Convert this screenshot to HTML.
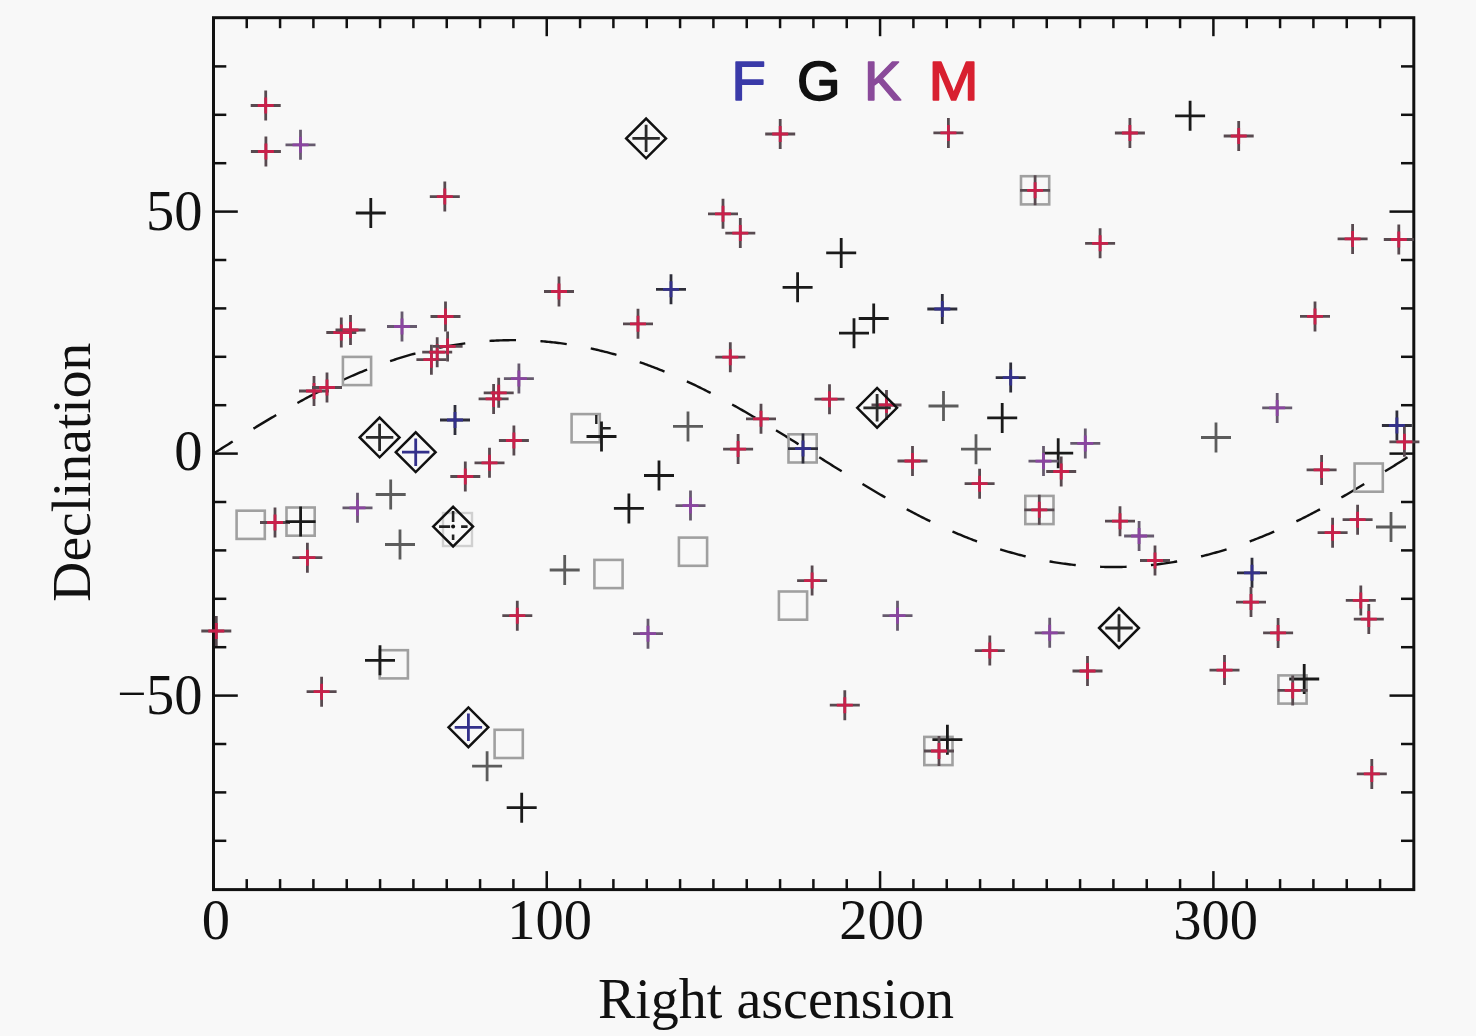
<!DOCTYPE html>
<html><head><meta charset="utf-8"><style>
html,body{margin:0;padding:0;background:#f8f8f8;}
body{width:1476px;height:1036px;overflow:hidden;position:relative;}
svg{position:absolute;left:0;top:0;}
.t{font-family:"Liberation Serif",serif;font-size:56.5px;fill:#111;}
.ax{font-family:"Liberation Serif",serif;font-size:55.5px;fill:#111;}
.lg{font-family:"Liberation Sans",sans-serif;font-weight:normal;font-size:56px;stroke-width:1.6px;stroke-linejoin:round;}
</style></head><body>
<svg width="1476" height="1036" viewBox="0 0 1476 1036">
<rect x="213.5" y="17.7" width="1200.3" height="871.9" fill="none" stroke="#111" stroke-width="3"/>
<line x1="246.73" y1="889.6" x2="246.73" y2="879.1" stroke="#111" stroke-width="2.5"/>
<line x1="246.73" y1="17.7" x2="246.73" y2="28.2" stroke="#111" stroke-width="2.5"/>
<line x1="280.07" y1="889.6" x2="280.07" y2="879.1" stroke="#111" stroke-width="2.5"/>
<line x1="280.07" y1="17.7" x2="280.07" y2="28.2" stroke="#111" stroke-width="2.5"/>
<line x1="313.40" y1="889.6" x2="313.40" y2="879.1" stroke="#111" stroke-width="2.5"/>
<line x1="313.40" y1="17.7" x2="313.40" y2="28.2" stroke="#111" stroke-width="2.5"/>
<line x1="346.73" y1="889.6" x2="346.73" y2="879.1" stroke="#111" stroke-width="2.5"/>
<line x1="346.73" y1="17.7" x2="346.73" y2="28.2" stroke="#111" stroke-width="2.5"/>
<line x1="380.07" y1="889.6" x2="380.07" y2="879.1" stroke="#111" stroke-width="2.5"/>
<line x1="380.07" y1="17.7" x2="380.07" y2="28.2" stroke="#111" stroke-width="2.5"/>
<line x1="413.40" y1="889.6" x2="413.40" y2="879.1" stroke="#111" stroke-width="2.5"/>
<line x1="413.40" y1="17.7" x2="413.40" y2="28.2" stroke="#111" stroke-width="2.5"/>
<line x1="446.73" y1="889.6" x2="446.73" y2="879.1" stroke="#111" stroke-width="2.5"/>
<line x1="446.73" y1="17.7" x2="446.73" y2="28.2" stroke="#111" stroke-width="2.5"/>
<line x1="480.07" y1="889.6" x2="480.07" y2="879.1" stroke="#111" stroke-width="2.5"/>
<line x1="480.07" y1="17.7" x2="480.07" y2="28.2" stroke="#111" stroke-width="2.5"/>
<line x1="513.40" y1="889.6" x2="513.40" y2="879.1" stroke="#111" stroke-width="2.5"/>
<line x1="513.40" y1="17.7" x2="513.40" y2="28.2" stroke="#111" stroke-width="2.5"/>
<line x1="546.73" y1="889.6" x2="546.73" y2="871.1" stroke="#111" stroke-width="2.5"/>
<line x1="546.73" y1="17.7" x2="546.73" y2="36.2" stroke="#111" stroke-width="2.5"/>
<line x1="580.07" y1="889.6" x2="580.07" y2="879.1" stroke="#111" stroke-width="2.5"/>
<line x1="580.07" y1="17.7" x2="580.07" y2="28.2" stroke="#111" stroke-width="2.5"/>
<line x1="613.40" y1="889.6" x2="613.40" y2="879.1" stroke="#111" stroke-width="2.5"/>
<line x1="613.40" y1="17.7" x2="613.40" y2="28.2" stroke="#111" stroke-width="2.5"/>
<line x1="646.73" y1="889.6" x2="646.73" y2="879.1" stroke="#111" stroke-width="2.5"/>
<line x1="646.73" y1="17.7" x2="646.73" y2="28.2" stroke="#111" stroke-width="2.5"/>
<line x1="680.07" y1="889.6" x2="680.07" y2="879.1" stroke="#111" stroke-width="2.5"/>
<line x1="680.07" y1="17.7" x2="680.07" y2="28.2" stroke="#111" stroke-width="2.5"/>
<line x1="713.40" y1="889.6" x2="713.40" y2="879.1" stroke="#111" stroke-width="2.5"/>
<line x1="713.40" y1="17.7" x2="713.40" y2="28.2" stroke="#111" stroke-width="2.5"/>
<line x1="746.73" y1="889.6" x2="746.73" y2="879.1" stroke="#111" stroke-width="2.5"/>
<line x1="746.73" y1="17.7" x2="746.73" y2="28.2" stroke="#111" stroke-width="2.5"/>
<line x1="780.07" y1="889.6" x2="780.07" y2="879.1" stroke="#111" stroke-width="2.5"/>
<line x1="780.07" y1="17.7" x2="780.07" y2="28.2" stroke="#111" stroke-width="2.5"/>
<line x1="813.40" y1="889.6" x2="813.40" y2="879.1" stroke="#111" stroke-width="2.5"/>
<line x1="813.40" y1="17.7" x2="813.40" y2="28.2" stroke="#111" stroke-width="2.5"/>
<line x1="846.73" y1="889.6" x2="846.73" y2="879.1" stroke="#111" stroke-width="2.5"/>
<line x1="846.73" y1="17.7" x2="846.73" y2="28.2" stroke="#111" stroke-width="2.5"/>
<line x1="880.07" y1="889.6" x2="880.07" y2="871.1" stroke="#111" stroke-width="2.5"/>
<line x1="880.07" y1="17.7" x2="880.07" y2="36.2" stroke="#111" stroke-width="2.5"/>
<line x1="913.40" y1="889.6" x2="913.40" y2="879.1" stroke="#111" stroke-width="2.5"/>
<line x1="913.40" y1="17.7" x2="913.40" y2="28.2" stroke="#111" stroke-width="2.5"/>
<line x1="946.73" y1="889.6" x2="946.73" y2="879.1" stroke="#111" stroke-width="2.5"/>
<line x1="946.73" y1="17.7" x2="946.73" y2="28.2" stroke="#111" stroke-width="2.5"/>
<line x1="980.07" y1="889.6" x2="980.07" y2="879.1" stroke="#111" stroke-width="2.5"/>
<line x1="980.07" y1="17.7" x2="980.07" y2="28.2" stroke="#111" stroke-width="2.5"/>
<line x1="1013.40" y1="889.6" x2="1013.40" y2="879.1" stroke="#111" stroke-width="2.5"/>
<line x1="1013.40" y1="17.7" x2="1013.40" y2="28.2" stroke="#111" stroke-width="2.5"/>
<line x1="1046.73" y1="889.6" x2="1046.73" y2="879.1" stroke="#111" stroke-width="2.5"/>
<line x1="1046.73" y1="17.7" x2="1046.73" y2="28.2" stroke="#111" stroke-width="2.5"/>
<line x1="1080.07" y1="889.6" x2="1080.07" y2="879.1" stroke="#111" stroke-width="2.5"/>
<line x1="1080.07" y1="17.7" x2="1080.07" y2="28.2" stroke="#111" stroke-width="2.5"/>
<line x1="1113.40" y1="889.6" x2="1113.40" y2="879.1" stroke="#111" stroke-width="2.5"/>
<line x1="1113.40" y1="17.7" x2="1113.40" y2="28.2" stroke="#111" stroke-width="2.5"/>
<line x1="1146.73" y1="889.6" x2="1146.73" y2="879.1" stroke="#111" stroke-width="2.5"/>
<line x1="1146.73" y1="17.7" x2="1146.73" y2="28.2" stroke="#111" stroke-width="2.5"/>
<line x1="1180.07" y1="889.6" x2="1180.07" y2="879.1" stroke="#111" stroke-width="2.5"/>
<line x1="1180.07" y1="17.7" x2="1180.07" y2="28.2" stroke="#111" stroke-width="2.5"/>
<line x1="1213.40" y1="889.6" x2="1213.40" y2="871.1" stroke="#111" stroke-width="2.5"/>
<line x1="1213.40" y1="17.7" x2="1213.40" y2="36.2" stroke="#111" stroke-width="2.5"/>
<line x1="1246.73" y1="889.6" x2="1246.73" y2="879.1" stroke="#111" stroke-width="2.5"/>
<line x1="1246.73" y1="17.7" x2="1246.73" y2="28.2" stroke="#111" stroke-width="2.5"/>
<line x1="1280.07" y1="889.6" x2="1280.07" y2="879.1" stroke="#111" stroke-width="2.5"/>
<line x1="1280.07" y1="17.7" x2="1280.07" y2="28.2" stroke="#111" stroke-width="2.5"/>
<line x1="1313.40" y1="889.6" x2="1313.40" y2="879.1" stroke="#111" stroke-width="2.5"/>
<line x1="1313.40" y1="17.7" x2="1313.40" y2="28.2" stroke="#111" stroke-width="2.5"/>
<line x1="1346.73" y1="889.6" x2="1346.73" y2="879.1" stroke="#111" stroke-width="2.5"/>
<line x1="1346.73" y1="17.7" x2="1346.73" y2="28.2" stroke="#111" stroke-width="2.5"/>
<line x1="1380.07" y1="889.6" x2="1380.07" y2="879.1" stroke="#111" stroke-width="2.5"/>
<line x1="1380.07" y1="17.7" x2="1380.07" y2="28.2" stroke="#111" stroke-width="2.5"/>
<line x1="213.5" y1="840.80" x2="226.3" y2="840.80" stroke="#111" stroke-width="2.5"/>
<line x1="1413.8" y1="840.80" x2="1401.0" y2="840.80" stroke="#111" stroke-width="2.5"/>
<line x1="213.5" y1="792.40" x2="226.3" y2="792.40" stroke="#111" stroke-width="2.5"/>
<line x1="1413.8" y1="792.40" x2="1401.0" y2="792.40" stroke="#111" stroke-width="2.5"/>
<line x1="213.5" y1="744.00" x2="226.3" y2="744.00" stroke="#111" stroke-width="2.5"/>
<line x1="1413.8" y1="744.00" x2="1401.0" y2="744.00" stroke="#111" stroke-width="2.5"/>
<line x1="213.5" y1="695.60" x2="237.8" y2="695.60" stroke="#111" stroke-width="2.5"/>
<line x1="1413.8" y1="695.60" x2="1389.5" y2="695.60" stroke="#111" stroke-width="2.5"/>
<line x1="213.5" y1="647.20" x2="226.3" y2="647.20" stroke="#111" stroke-width="2.5"/>
<line x1="1413.8" y1="647.20" x2="1401.0" y2="647.20" stroke="#111" stroke-width="2.5"/>
<line x1="213.5" y1="598.80" x2="226.3" y2="598.80" stroke="#111" stroke-width="2.5"/>
<line x1="1413.8" y1="598.80" x2="1401.0" y2="598.80" stroke="#111" stroke-width="2.5"/>
<line x1="213.5" y1="550.40" x2="226.3" y2="550.40" stroke="#111" stroke-width="2.5"/>
<line x1="1413.8" y1="550.40" x2="1401.0" y2="550.40" stroke="#111" stroke-width="2.5"/>
<line x1="213.5" y1="502.00" x2="226.3" y2="502.00" stroke="#111" stroke-width="2.5"/>
<line x1="1413.8" y1="502.00" x2="1401.0" y2="502.00" stroke="#111" stroke-width="2.5"/>
<line x1="213.5" y1="453.60" x2="237.8" y2="453.60" stroke="#111" stroke-width="2.5"/>
<line x1="1413.8" y1="453.60" x2="1389.5" y2="453.60" stroke="#111" stroke-width="2.5"/>
<line x1="213.5" y1="405.20" x2="226.3" y2="405.20" stroke="#111" stroke-width="2.5"/>
<line x1="1413.8" y1="405.20" x2="1401.0" y2="405.20" stroke="#111" stroke-width="2.5"/>
<line x1="213.5" y1="356.80" x2="226.3" y2="356.80" stroke="#111" stroke-width="2.5"/>
<line x1="1413.8" y1="356.80" x2="1401.0" y2="356.80" stroke="#111" stroke-width="2.5"/>
<line x1="213.5" y1="308.40" x2="226.3" y2="308.40" stroke="#111" stroke-width="2.5"/>
<line x1="1413.8" y1="308.40" x2="1401.0" y2="308.40" stroke="#111" stroke-width="2.5"/>
<line x1="213.5" y1="260.00" x2="226.3" y2="260.00" stroke="#111" stroke-width="2.5"/>
<line x1="1413.8" y1="260.00" x2="1401.0" y2="260.00" stroke="#111" stroke-width="2.5"/>
<line x1="213.5" y1="211.60" x2="237.8" y2="211.60" stroke="#111" stroke-width="2.5"/>
<line x1="1413.8" y1="211.60" x2="1389.5" y2="211.60" stroke="#111" stroke-width="2.5"/>
<line x1="213.5" y1="163.20" x2="226.3" y2="163.20" stroke="#111" stroke-width="2.5"/>
<line x1="1413.8" y1="163.20" x2="1401.0" y2="163.20" stroke="#111" stroke-width="2.5"/>
<line x1="213.5" y1="114.80" x2="226.3" y2="114.80" stroke="#111" stroke-width="2.5"/>
<line x1="1413.8" y1="114.80" x2="1401.0" y2="114.80" stroke="#111" stroke-width="2.5"/>
<line x1="213.5" y1="66.40" x2="226.3" y2="66.40" stroke="#111" stroke-width="2.5"/>
<line x1="1413.8" y1="66.40" x2="1401.0" y2="66.40" stroke="#111" stroke-width="2.5"/>
<polyline points="213.40,453.60 215.07,452.55 216.73,451.50 218.40,450.45 220.07,449.40 221.73,448.36 223.40,447.31 225.07,446.26 226.73,445.22 228.40,444.17 230.07,443.13 231.73,442.08 233.40,441.04 235.07,440.00 236.73,438.96 238.40,437.92 240.07,436.89 241.73,435.85 243.40,434.82 245.07,433.79 246.73,432.76 248.40,431.73 250.07,430.71 251.73,429.69 253.40,428.67 255.07,427.65 256.73,426.64 258.40,425.63 260.07,424.62 261.73,423.61 263.40,422.61 265.07,421.61 266.73,420.62 268.40,419.62 270.07,418.63 271.73,417.65 273.40,416.67 275.07,415.69 276.73,414.71 278.40,413.74 280.07,412.78 281.73,411.81 283.40,410.85 285.07,409.90 286.73,408.95 288.40,408.00 290.07,407.06 291.73,406.13 293.40,405.19 295.07,404.27 296.73,403.34 298.40,402.43 300.07,401.51 301.73,400.61 303.40,399.70 305.07,398.81 306.73,397.91 308.40,397.03 310.07,396.15 311.73,395.27 313.40,394.40 315.07,393.53 316.73,392.67 318.40,391.82 320.07,390.97 321.73,390.13 323.40,389.29 325.07,388.46 326.73,387.64 328.40,386.82 330.07,386.01 331.73,385.20 333.40,384.40 335.07,383.61 336.73,382.82 338.40,382.04 340.07,381.26 341.73,380.49 343.40,379.73 345.07,378.98 346.73,378.23 348.40,377.49 350.07,376.75 351.73,376.02 353.40,375.30 355.07,374.58 356.73,373.87 358.40,373.17 360.07,372.48 361.73,371.79 363.40,371.10 365.07,370.43 366.73,369.76 368.40,369.10 370.07,368.45 371.73,367.80 373.40,367.16 375.07,366.53 376.73,365.90 378.40,365.29 380.07,364.67 381.73,364.07 383.40,363.47 385.07,362.88 386.73,362.30 388.40,361.73 390.07,361.16 391.73,360.60 393.40,360.05 395.07,359.50 396.73,358.96 398.40,358.43 400.07,357.91 401.73,357.39 403.40,356.89 405.07,356.38 406.73,355.89 408.40,355.41 410.07,354.93 411.73,354.46 413.40,353.99 415.07,353.54 416.73,353.09 418.40,352.65 420.07,352.21 421.73,351.79 423.40,351.37 425.07,350.96 426.73,350.56 428.40,350.16 430.07,349.77 431.73,349.39 433.40,349.02 435.07,348.65 436.73,348.30 438.40,347.95 440.07,347.60 441.73,347.27 443.40,346.94 445.07,346.62 446.73,346.31 448.40,346.01 450.07,345.71 451.73,345.42 453.40,345.14 455.07,344.87 456.73,344.60 458.40,344.35 460.07,344.09 461.73,343.85 463.40,343.62 465.07,343.39 466.73,343.17 468.40,342.96 470.07,342.75 471.73,342.56 473.40,342.37 475.07,342.19 476.73,342.02 478.40,341.85 480.07,341.69 481.73,341.54 483.40,341.40 485.07,341.26 486.73,341.14 488.40,341.02 490.07,340.91 491.73,340.80 493.40,340.71 495.07,340.62 496.73,340.54 498.40,340.46 500.07,340.40 501.73,340.34 503.40,340.29 505.07,340.25 506.73,340.21 508.40,340.19 510.07,340.17 511.73,340.15 513.40,340.15 515.07,340.15 516.73,340.17 518.40,340.19 520.07,340.21 521.73,340.25 523.40,340.29 525.07,340.34 526.73,340.40 528.40,340.46 530.07,340.54 531.73,340.62 533.40,340.71 535.07,340.80 536.73,340.91 538.40,341.02 540.07,341.14 541.73,341.26 543.40,341.40 545.07,341.54 546.73,341.69 548.40,341.85 550.07,342.02 551.73,342.19 553.40,342.37 555.07,342.56 556.73,342.75 558.40,342.96 560.07,343.17 561.73,343.39 563.40,343.62 565.07,343.85 566.73,344.09 568.40,344.35 570.07,344.60 571.73,344.87 573.40,345.14 575.07,345.42 576.73,345.71 578.40,346.01 580.07,346.31 581.73,346.62 583.40,346.94 585.07,347.27 586.73,347.60 588.40,347.95 590.07,348.30 591.73,348.65 593.40,349.02 595.07,349.39 596.73,349.77 598.40,350.16 600.07,350.56 601.73,350.96 603.40,351.37 605.07,351.79 606.73,352.21 608.40,352.65 610.07,353.09 611.73,353.54 613.40,353.99 615.07,354.46 616.73,354.93 618.40,355.41 620.07,355.89 621.73,356.38 623.40,356.89 625.07,357.39 626.73,357.91 628.40,358.43 630.07,358.96 631.73,359.50 633.40,360.05 635.07,360.60 636.73,361.16 638.40,361.73 640.07,362.30 641.73,362.88 643.40,363.47 645.07,364.07 646.73,364.67 648.40,365.29 650.07,365.90 651.73,366.53 653.40,367.16 655.07,367.80 656.73,368.45 658.40,369.10 660.07,369.76 661.73,370.43 663.40,371.10 665.07,371.79 666.73,372.48 668.40,373.17 670.07,373.87 671.73,374.58 673.40,375.30 675.07,376.02 676.73,376.75 678.40,377.49 680.07,378.23 681.73,378.98 683.40,379.73 685.07,380.49 686.73,381.26 688.40,382.04 690.07,382.82 691.73,383.61 693.40,384.40 695.07,385.20 696.73,386.01 698.40,386.82 700.07,387.64 701.73,388.46 703.40,389.29 705.07,390.13 706.73,390.97 708.40,391.82 710.07,392.67 711.73,393.53 713.40,394.40 715.07,395.27 716.73,396.15 718.40,397.03 720.07,397.91 721.73,398.81 723.40,399.70 725.07,400.61 726.73,401.51 728.40,402.43 730.07,403.34 731.73,404.27 733.40,405.19 735.07,406.13 736.73,407.06 738.40,408.00 740.07,408.95 741.73,409.90 743.40,410.85 745.07,411.81 746.73,412.78 748.40,413.74 750.07,414.71 751.73,415.69 753.40,416.67 755.07,417.65 756.73,418.63 758.40,419.62 760.07,420.62 761.73,421.61 763.40,422.61 765.07,423.61 766.73,424.62 768.40,425.63 770.07,426.64 771.73,427.65 773.40,428.67 775.07,429.69 776.73,430.71 778.40,431.73 780.07,432.76 781.73,433.79 783.40,434.82 785.07,435.85 786.73,436.89 788.40,437.92 790.07,438.96 791.73,440.00 793.40,441.04 795.07,442.08 796.73,443.13 798.40,444.17 800.07,445.22 801.73,446.26 803.40,447.31 805.07,448.36 806.73,449.40 808.40,450.45 810.07,451.50 811.73,452.55 813.40,453.60 815.07,454.65 816.73,455.70 818.40,456.75 820.07,457.80 821.73,458.84 823.40,459.89 825.07,460.94 826.73,461.98 828.40,463.03 830.07,464.07 831.73,465.12 833.40,466.16 835.07,467.20 836.73,468.24 838.40,469.28 840.07,470.31 841.73,471.35 843.40,472.38 845.07,473.41 846.73,474.44 848.40,475.47 850.07,476.49 851.73,477.51 853.40,478.53 855.07,479.55 856.73,480.56 858.40,481.57 860.07,482.58 861.73,483.59 863.40,484.59 865.07,485.59 866.73,486.58 868.40,487.58 870.07,488.57 871.73,489.55 873.40,490.53 875.07,491.51 876.73,492.49 878.40,493.46 880.07,494.42 881.73,495.39 883.40,496.35 885.07,497.30 886.73,498.25 888.40,499.20 890.07,500.14 891.73,501.07 893.40,502.01 895.07,502.93 896.73,503.86 898.40,504.77 900.07,505.69 901.73,506.59 903.40,507.50 905.07,508.39 906.73,509.29 908.40,510.17 910.07,511.05 911.73,511.93 913.40,512.80 915.07,513.67 916.73,514.53 918.40,515.38 920.07,516.23 921.73,517.07 923.40,517.91 925.07,518.74 926.73,519.56 928.40,520.38 930.07,521.19 931.73,522.00 933.40,522.80 935.07,523.59 936.73,524.38 938.40,525.16 940.07,525.94 941.73,526.71 943.40,527.47 945.07,528.22 946.73,528.97 948.40,529.71 950.07,530.45 951.73,531.18 953.40,531.90 955.07,532.62 956.73,533.33 958.40,534.03 960.07,534.72 961.73,535.41 963.40,536.10 965.07,536.77 966.73,537.44 968.40,538.10 970.07,538.75 971.73,539.40 973.40,540.04 975.07,540.67 976.73,541.30 978.40,541.91 980.07,542.53 981.73,543.13 983.40,543.73 985.07,544.32 986.73,544.90 988.40,545.47 990.07,546.04 991.73,546.60 993.40,547.15 995.07,547.70 996.73,548.24 998.40,548.77 1000.07,549.29 1001.73,549.81 1003.40,550.31 1005.07,550.82 1006.73,551.31 1008.40,551.79 1010.07,552.27 1011.73,552.74 1013.40,553.21 1015.07,553.66 1016.73,554.11 1018.40,554.55 1020.07,554.99 1021.73,555.41 1023.40,555.83 1025.07,556.24 1026.73,556.64 1028.40,557.04 1030.07,557.43 1031.73,557.81 1033.40,558.18 1035.07,558.55 1036.73,558.90 1038.40,559.25 1040.07,559.60 1041.73,559.93 1043.40,560.26 1045.07,560.58 1046.73,560.89 1048.40,561.19 1050.07,561.49 1051.73,561.78 1053.40,562.06 1055.07,562.33 1056.73,562.60 1058.40,562.85 1060.07,563.11 1061.73,563.35 1063.40,563.58 1065.07,563.81 1066.73,564.03 1068.40,564.24 1070.07,564.45 1071.73,564.64 1073.40,564.83 1075.07,565.01 1076.73,565.18 1078.40,565.35 1080.07,565.51 1081.73,565.66 1083.40,565.80 1085.07,565.94 1086.73,566.06 1088.40,566.18 1090.07,566.29 1091.73,566.40 1093.40,566.49 1095.07,566.58 1096.73,566.66 1098.40,566.74 1100.07,566.80 1101.73,566.86 1103.40,566.91 1105.07,566.95 1106.73,566.99 1108.40,567.01 1110.07,567.03 1111.73,567.05 1113.40,567.05 1115.07,567.05 1116.73,567.03 1118.40,567.01 1120.07,566.99 1121.73,566.95 1123.40,566.91 1125.07,566.86 1126.73,566.80 1128.40,566.74 1130.07,566.66 1131.73,566.58 1133.40,566.49 1135.07,566.40 1136.73,566.29 1138.40,566.18 1140.07,566.06 1141.73,565.94 1143.40,565.80 1145.07,565.66 1146.73,565.51 1148.40,565.35 1150.07,565.18 1151.73,565.01 1153.40,564.83 1155.07,564.64 1156.73,564.45 1158.40,564.24 1160.07,564.03 1161.73,563.81 1163.40,563.58 1165.07,563.35 1166.73,563.11 1168.40,562.85 1170.07,562.60 1171.73,562.33 1173.40,562.06 1175.07,561.78 1176.73,561.49 1178.40,561.19 1180.07,560.89 1181.73,560.58 1183.40,560.26 1185.07,559.93 1186.73,559.60 1188.40,559.25 1190.07,558.90 1191.73,558.55 1193.40,558.18 1195.07,557.81 1196.73,557.43 1198.40,557.04 1200.07,556.64 1201.73,556.24 1203.40,555.83 1205.07,555.41 1206.73,554.99 1208.40,554.55 1210.07,554.11 1211.73,553.66 1213.40,553.21 1215.07,552.74 1216.73,552.27 1218.40,551.79 1220.07,551.31 1221.73,550.82 1223.40,550.31 1225.07,549.81 1226.73,549.29 1228.40,548.77 1230.07,548.24 1231.73,547.70 1233.40,547.15 1235.07,546.60 1236.73,546.04 1238.40,545.47 1240.07,544.90 1241.73,544.32 1243.40,543.73 1245.07,543.13 1246.73,542.53 1248.40,541.91 1250.07,541.30 1251.73,540.67 1253.40,540.04 1255.07,539.40 1256.73,538.75 1258.40,538.10 1260.07,537.44 1261.73,536.77 1263.40,536.10 1265.07,535.41 1266.73,534.72 1268.40,534.03 1270.07,533.33 1271.73,532.62 1273.40,531.90 1275.07,531.18 1276.73,530.45 1278.40,529.71 1280.07,528.97 1281.73,528.22 1283.40,527.47 1285.07,526.71 1286.73,525.94 1288.40,525.16 1290.07,524.38 1291.73,523.59 1293.40,522.80 1295.07,522.00 1296.73,521.19 1298.40,520.38 1300.07,519.56 1301.73,518.74 1303.40,517.91 1305.07,517.07 1306.73,516.23 1308.40,515.38 1310.07,514.53 1311.73,513.67 1313.40,512.80 1315.07,511.93 1316.73,511.05 1318.40,510.17 1320.07,509.29 1321.73,508.39 1323.40,507.50 1325.07,506.59 1326.73,505.69 1328.40,504.77 1330.07,503.86 1331.73,502.93 1333.40,502.01 1335.07,501.07 1336.73,500.14 1338.40,499.20 1340.07,498.25 1341.73,497.30 1343.40,496.35 1345.07,495.39 1346.73,494.42 1348.40,493.46 1350.07,492.49 1351.73,491.51 1353.40,490.53 1355.07,489.55 1356.73,488.57 1358.40,487.58 1360.07,486.58 1361.73,485.59 1363.40,484.59 1365.07,483.59 1366.73,482.58 1368.40,481.57 1370.07,480.56 1371.73,479.55 1373.40,478.53 1375.07,477.51 1376.73,476.49 1378.40,475.47 1380.07,474.44 1381.73,473.41 1383.40,472.38 1385.07,471.35 1386.73,470.31 1388.40,469.28 1390.07,468.24 1391.73,467.20 1393.40,466.16 1395.07,465.12 1396.73,464.07 1398.40,463.03 1400.07,461.98 1401.73,460.94 1403.40,459.89 1405.07,458.84 1406.73,457.80 1408.40,456.75 1410.07,455.70 1411.73,454.65 1413.40,453.60" fill="none" stroke="#111" stroke-width="2.4" stroke-dasharray="26.5 24.4" stroke-dashoffset="3.7"/>
<rect x="443" y="513" width="29" height="33" fill="none" stroke="#d0d0d0" stroke-width="2.4"/>
<rect x="236.6" y="510.7" width="28.2" height="28.2" fill="none" stroke="#a0a0a0" stroke-width="2.6"/>
<rect x="286.5" y="507.5" width="28.2" height="28.2" fill="none" stroke="#a0a0a0" stroke-width="2.6"/>
<rect x="342.9" y="356.9" width="28.2" height="28.2" fill="none" stroke="#a0a0a0" stroke-width="2.6"/>
<rect x="571.6" y="414.1" width="28.2" height="28.2" fill="none" stroke="#a0a0a0" stroke-width="2.6"/>
<rect x="678.9" y="537.6" width="28.2" height="28.2" fill="none" stroke="#a0a0a0" stroke-width="2.6"/>
<rect x="594.4" y="559.9" width="28.2" height="28.2" fill="none" stroke="#a0a0a0" stroke-width="2.6"/>
<rect x="778.9" y="591.5" width="28.2" height="28.2" fill="none" stroke="#a0a0a0" stroke-width="2.6"/>
<rect x="788.5" y="434.3" width="28.2" height="28.2" fill="none" stroke="#a0a0a0" stroke-width="2.6"/>
<rect x="1025.3" y="495.9" width="28.2" height="28.2" fill="none" stroke="#a0a0a0" stroke-width="2.6"/>
<rect x="1021.0" y="176.2" width="28.2" height="28.2" fill="none" stroke="#a0a0a0" stroke-width="2.6"/>
<rect x="1354.6" y="463.5" width="28.2" height="28.2" fill="none" stroke="#a0a0a0" stroke-width="2.6"/>
<rect x="924.3" y="736.9" width="28.2" height="28.2" fill="none" stroke="#a0a0a0" stroke-width="2.6"/>
<rect x="1278.4" y="675.4" width="28.2" height="28.2" fill="none" stroke="#a0a0a0" stroke-width="2.6"/>
<rect x="379.7" y="650.2" width="28.2" height="28.2" fill="none" stroke="#a0a0a0" stroke-width="2.6"/>
<rect x="494.6" y="729.8" width="28.2" height="28.2" fill="none" stroke="#a0a0a0" stroke-width="2.6"/>
<path d="M250.7 105.5h30M265.7 90.5v30" stroke="#584a50" stroke-width="2.8" fill="none"/>
<path d="M257.7 105.5h16M265.7 97.5v16" stroke="#c8204a" stroke-width="2.8" fill="none"/>
<path d="M250.9 151.5h30M265.9 136.5v30" stroke="#584a50" stroke-width="2.8" fill="none"/>
<path d="M257.9 151.5h16M265.9 143.5v16" stroke="#c8204a" stroke-width="2.8" fill="none"/>
<path d="M285.5 144.8h30M300.5 129.8v30" stroke="#665a6e" stroke-width="2.8" fill="none"/>
<path d="M292.5 144.8h16M300.5 136.8v16" stroke="#8a45a0" stroke-width="2.8" fill="none"/>
<path d="M355.8 213.0h30M370.8 198.0v30" stroke="#1a1a1a" stroke-width="2.8" fill="none"/>
<path d="M429.8 196.6h30M444.8 181.6v30" stroke="#584a50" stroke-width="2.8" fill="none"/>
<path d="M436.8 196.6h16M444.8 188.6v16" stroke="#c8204a" stroke-width="2.8" fill="none"/>
<path d="M326.3 332.5h30M341.3 317.5v30" stroke="#584a50" stroke-width="2.8" fill="none"/>
<path d="M333.3 332.5h16M341.3 324.5v16" stroke="#c8204a" stroke-width="2.8" fill="none"/>
<path d="M335.5 330.0h30M350.5 315.0v30" stroke="#584a50" stroke-width="2.8" fill="none"/>
<path d="M342.5 330.0h16M350.5 322.0v16" stroke="#c8204a" stroke-width="2.8" fill="none"/>
<path d="M387.0 326.5h30M402.0 311.5v30" stroke="#665a6e" stroke-width="2.8" fill="none"/>
<path d="M394.0 326.5h16M402.0 318.5v16" stroke="#8a45a0" stroke-width="2.8" fill="none"/>
<path d="M430.5 316.5h30M445.5 301.5v30" stroke="#584a50" stroke-width="2.8" fill="none"/>
<path d="M437.5 316.5h16M445.5 308.5v16" stroke="#c8204a" stroke-width="2.8" fill="none"/>
<path d="M416.4 359.7h30M431.4 344.7v30" stroke="#584a50" stroke-width="2.8" fill="none"/>
<path d="M423.4 359.7h16M431.4 351.7v16" stroke="#c8204a" stroke-width="2.8" fill="none"/>
<path d="M422.2 352.2h30M437.2 337.2v30" stroke="#584a50" stroke-width="2.8" fill="none"/>
<path d="M429.2 352.2h16M437.2 344.2v16" stroke="#c8204a" stroke-width="2.8" fill="none"/>
<path d="M432.6 346.4h30M447.6 331.4v30" stroke="#584a50" stroke-width="2.8" fill="none"/>
<path d="M439.6 346.4h16M447.6 338.4v16" stroke="#c8204a" stroke-width="2.8" fill="none"/>
<path d="M299.0 391.0h30M314.0 376.0v30" stroke="#584a50" stroke-width="2.8" fill="none"/>
<path d="M306.0 391.0h16M314.0 383.0v16" stroke="#c8204a" stroke-width="2.8" fill="none"/>
<path d="M312.0 387.5h30M327.0 372.5v30" stroke="#584a50" stroke-width="2.8" fill="none"/>
<path d="M319.0 387.5h16M327.0 379.5v16" stroke="#c8204a" stroke-width="2.8" fill="none"/>
<path d="M440.0 420.0h30M455.0 405.0v30" stroke="#2e2e3a" stroke-width="2.8" fill="none"/>
<path d="M447.0 420.0h16M455.0 412.0v16" stroke="#33308a" stroke-width="2.8" fill="none"/>
<path d="M478.6 398.9h30M493.6 383.9v30" stroke="#584a50" stroke-width="2.8" fill="none"/>
<path d="M485.6 398.9h16M493.6 390.9v16" stroke="#c8204a" stroke-width="2.8" fill="none"/>
<path d="M483.7 392.8h30M498.7 377.8v30" stroke="#584a50" stroke-width="2.8" fill="none"/>
<path d="M490.7 392.8h16M498.7 384.8v16" stroke="#c8204a" stroke-width="2.8" fill="none"/>
<path d="M503.9 378.6h30M518.9 363.6v30" stroke="#665a6e" stroke-width="2.8" fill="none"/>
<path d="M510.9 378.6h16M518.9 370.6v16" stroke="#8a45a0" stroke-width="2.8" fill="none"/>
<path d="M498.9 440.5h30M513.9 425.5v30" stroke="#584a50" stroke-width="2.8" fill="none"/>
<path d="M505.9 440.5h16M513.9 432.5v16" stroke="#c8204a" stroke-width="2.8" fill="none"/>
<path d="M474.5 462.8h30M489.5 447.8v30" stroke="#584a50" stroke-width="2.8" fill="none"/>
<path d="M481.5 462.8h16M489.5 454.8v16" stroke="#c8204a" stroke-width="2.8" fill="none"/>
<path d="M450.3 476.5h30M465.3 461.5v30" stroke="#584a50" stroke-width="2.8" fill="none"/>
<path d="M457.3 476.5h16M465.3 468.5v16" stroke="#c8204a" stroke-width="2.8" fill="none"/>
<path d="M544.0 291.5h30M559.0 276.5v30" stroke="#584a50" stroke-width="2.8" fill="none"/>
<path d="M551.0 291.5h16M559.0 283.5v16" stroke="#c8204a" stroke-width="2.8" fill="none"/>
<path d="M656.0 289.3h30M671.0 274.3v30" stroke="#2e2e3a" stroke-width="2.8" fill="none"/>
<path d="M663.0 289.3h16M671.0 281.3v16" stroke="#33308a" stroke-width="2.8" fill="none"/>
<path d="M623.0 323.8h30M638.0 308.8v30" stroke="#584a50" stroke-width="2.8" fill="none"/>
<path d="M630.0 323.8h16M638.0 315.8v16" stroke="#c8204a" stroke-width="2.8" fill="none"/>
<path d="M586.5 436.5h30M601.5 421.5v30" stroke="#1a1a1a" stroke-width="2.8" fill="none"/>
<path d="M673.0 426.4h30M688.0 411.4v30" stroke="#5c5c5c" stroke-width="2.8" fill="none"/>
<path d="M765.2 134.0h30M780.2 119.0v30" stroke="#584a50" stroke-width="2.8" fill="none"/>
<path d="M772.2 134.0h16M780.2 126.0v16" stroke="#c8204a" stroke-width="2.8" fill="none"/>
<path d="M933.4 132.9h30M948.4 117.9v30" stroke="#584a50" stroke-width="2.8" fill="none"/>
<path d="M940.4 132.9h16M948.4 124.9v16" stroke="#c8204a" stroke-width="2.8" fill="none"/>
<path d="M708.0 213.8h30M723.0 198.8v30" stroke="#584a50" stroke-width="2.8" fill="none"/>
<path d="M715.0 213.8h16M723.0 205.8v16" stroke="#c8204a" stroke-width="2.8" fill="none"/>
<path d="M725.3 233.1h30M740.3 218.1v30" stroke="#584a50" stroke-width="2.8" fill="none"/>
<path d="M732.3 233.1h16M740.3 225.1v16" stroke="#c8204a" stroke-width="2.8" fill="none"/>
<path d="M826.2 252.9h30M841.2 237.9v30" stroke="#1a1a1a" stroke-width="2.8" fill="none"/>
<path d="M782.6 287.3h30M797.6 272.3v30" stroke="#1a1a1a" stroke-width="2.8" fill="none"/>
<path d="M858.7 318.5h30M873.7 303.5v30" stroke="#1a1a1a" stroke-width="2.8" fill="none"/>
<path d="M839.0 333.2h30M854.0 318.2v30" stroke="#1a1a1a" stroke-width="2.8" fill="none"/>
<path d="M927.3 309.0h30M942.3 294.0v30" stroke="#2e2e3a" stroke-width="2.8" fill="none"/>
<path d="M934.3 309.0h16M942.3 301.0v16" stroke="#33308a" stroke-width="2.8" fill="none"/>
<path d="M1114.9 133.0h30M1129.9 118.0v30" stroke="#584a50" stroke-width="2.8" fill="none"/>
<path d="M1121.9 133.0h16M1129.9 125.0v16" stroke="#c8204a" stroke-width="2.8" fill="none"/>
<path d="M1175.1 115.8h30M1190.1 100.8v30" stroke="#1a1a1a" stroke-width="2.8" fill="none"/>
<path d="M1223.7 136.0h30M1238.7 121.0v30" stroke="#584a50" stroke-width="2.8" fill="none"/>
<path d="M1230.7 136.0h16M1238.7 128.0v16" stroke="#c8204a" stroke-width="2.8" fill="none"/>
<path d="M1085.1 243.3h30M1100.1 228.3v30" stroke="#584a50" stroke-width="2.8" fill="none"/>
<path d="M1092.1 243.3h16M1100.1 235.3v16" stroke="#c8204a" stroke-width="2.8" fill="none"/>
<path d="M1337.6 238.9h30M1352.6 223.9v30" stroke="#584a50" stroke-width="2.8" fill="none"/>
<path d="M1344.6 238.9h16M1352.6 230.9v16" stroke="#c8204a" stroke-width="2.8" fill="none"/>
<path d="M1383.8 239.5h30M1398.8 224.5v30" stroke="#584a50" stroke-width="2.8" fill="none"/>
<path d="M1390.8 239.5h16M1398.8 231.5v16" stroke="#c8204a" stroke-width="2.8" fill="none"/>
<path d="M1300.0 316.4h30M1315.0 301.4v30" stroke="#584a50" stroke-width="2.8" fill="none"/>
<path d="M1307.0 316.4h16M1315.0 308.4v16" stroke="#c8204a" stroke-width="2.8" fill="none"/>
<path d="M715.3 357.2h30M730.3 342.2v30" stroke="#584a50" stroke-width="2.8" fill="none"/>
<path d="M722.3 357.2h16M730.3 349.2v16" stroke="#c8204a" stroke-width="2.8" fill="none"/>
<path d="M814.5 399.2h30M829.5 384.2v30" stroke="#584a50" stroke-width="2.8" fill="none"/>
<path d="M821.5 399.2h16M829.5 391.2v16" stroke="#c8204a" stroke-width="2.8" fill="none"/>
<path d="M871.5 405.0h30M886.5 390.0v30" stroke="#584a50" stroke-width="2.8" fill="none"/>
<path d="M878.5 405.0h16M886.5 397.0v16" stroke="#c8204a" stroke-width="2.8" fill="none"/>
<path d="M928.5 406.0h30M943.5 391.0v30" stroke="#5c5c5c" stroke-width="2.8" fill="none"/>
<path d="M746.0 418.8h30M761.0 403.8v30" stroke="#584a50" stroke-width="2.8" fill="none"/>
<path d="M753.0 418.8h16M761.0 410.8v16" stroke="#c8204a" stroke-width="2.8" fill="none"/>
<path d="M723.1 449.1h30M738.1 434.1v30" stroke="#584a50" stroke-width="2.8" fill="none"/>
<path d="M730.1 449.1h16M738.1 441.1v16" stroke="#c8204a" stroke-width="2.8" fill="none"/>
<path d="M897.5 461.0h30M912.5 446.0v30" stroke="#584a50" stroke-width="2.8" fill="none"/>
<path d="M904.5 461.0h16M912.5 453.0v16" stroke="#c8204a" stroke-width="2.8" fill="none"/>
<path d="M961.0 449.2h30M976.0 434.2v30" stroke="#5c5c5c" stroke-width="2.8" fill="none"/>
<path d="M995.7 377.6h30M1010.7 362.6v30" stroke="#2e2e3a" stroke-width="2.8" fill="none"/>
<path d="M1002.7 377.6h16M1010.7 369.6v16" stroke="#33308a" stroke-width="2.8" fill="none"/>
<path d="M987.2 417.9h30M1002.2 402.9v30" stroke="#1a1a1a" stroke-width="2.8" fill="none"/>
<path d="M964.6 483.7h30M979.6 468.7v30" stroke="#584a50" stroke-width="2.8" fill="none"/>
<path d="M971.6 483.7h16M979.6 475.7v16" stroke="#c8204a" stroke-width="2.8" fill="none"/>
<path d="M1043.2 453.2h30M1058.2 438.2v30" stroke="#1a1a1a" stroke-width="2.8" fill="none"/>
<path d="M1028.5 461.1h30M1043.5 446.1v30" stroke="#665a6e" stroke-width="2.8" fill="none"/>
<path d="M1035.5 461.1h16M1043.5 453.1v16" stroke="#8a45a0" stroke-width="2.8" fill="none"/>
<path d="M1046.2 471.5h30M1061.2 456.5v30" stroke="#584a50" stroke-width="2.8" fill="none"/>
<path d="M1053.2 471.5h16M1061.2 463.5v16" stroke="#c8204a" stroke-width="2.8" fill="none"/>
<path d="M1070.3 443.4h30M1085.3 428.4v30" stroke="#665a6e" stroke-width="2.8" fill="none"/>
<path d="M1077.3 443.4h16M1085.3 435.4v16" stroke="#8a45a0" stroke-width="2.8" fill="none"/>
<path d="M1201.0 437.5h30M1216.0 422.5v30" stroke="#5c5c5c" stroke-width="2.8" fill="none"/>
<path d="M1262.2 407.9h30M1277.2 392.9v30" stroke="#665a6e" stroke-width="2.8" fill="none"/>
<path d="M1269.2 407.9h16M1277.2 399.9v16" stroke="#8a45a0" stroke-width="2.8" fill="none"/>
<path d="M1381.9 425.5h30M1396.9 410.5v30" stroke="#2e2e3a" stroke-width="2.8" fill="none"/>
<path d="M1388.9 425.5h16M1396.9 417.5v16" stroke="#33308a" stroke-width="2.8" fill="none"/>
<path d="M1389.4 441.8h30M1404.4 426.8v30" stroke="#584a50" stroke-width="2.8" fill="none"/>
<path d="M1396.4 441.8h16M1404.4 433.8v16" stroke="#c8204a" stroke-width="2.8" fill="none"/>
<path d="M1306.6 469.9h30M1321.6 454.9v30" stroke="#584a50" stroke-width="2.8" fill="none"/>
<path d="M1313.6 469.9h16M1321.6 461.9v16" stroke="#c8204a" stroke-width="2.8" fill="none"/>
<path d="M1342.6 519.7h30M1357.6 504.7v30" stroke="#584a50" stroke-width="2.8" fill="none"/>
<path d="M1349.6 519.7h16M1357.6 511.7v16" stroke="#c8204a" stroke-width="2.8" fill="none"/>
<path d="M1317.6 532.7h30M1332.6 517.7v30" stroke="#584a50" stroke-width="2.8" fill="none"/>
<path d="M1324.6 532.7h16M1332.6 524.7v16" stroke="#c8204a" stroke-width="2.8" fill="none"/>
<path d="M1376.0 527.0h30M1391.0 512.0v30" stroke="#5c5c5c" stroke-width="2.8" fill="none"/>
<path d="M260.0 522.5h30M275.0 507.5v30" stroke="#584a50" stroke-width="2.8" fill="none"/>
<path d="M267.0 522.5h16M275.0 514.5v16" stroke="#c8204a" stroke-width="2.8" fill="none"/>
<path d="M292.4 557.7h30M307.4 542.7v30" stroke="#584a50" stroke-width="2.8" fill="none"/>
<path d="M299.4 557.7h16M307.4 549.7v16" stroke="#c8204a" stroke-width="2.8" fill="none"/>
<path d="M342.5 507.8h30M357.5 492.8v30" stroke="#665a6e" stroke-width="2.8" fill="none"/>
<path d="M349.5 507.8h16M357.5 499.8v16" stroke="#8a45a0" stroke-width="2.8" fill="none"/>
<path d="M375.7 494.5h30M390.7 479.5v30" stroke="#5c5c5c" stroke-width="2.8" fill="none"/>
<path d="M385.0 544.5h30M400.0 529.5v30" stroke="#5c5c5c" stroke-width="2.8" fill="none"/>
<path d="M201.3 631.0h30M216.3 616.0v30" stroke="#584a50" stroke-width="2.8" fill="none"/>
<path d="M208.3 631.0h16M216.3 623.0v16" stroke="#c8204a" stroke-width="2.8" fill="none"/>
<path d="M365.0 660.3h30M380.0 645.3v30" stroke="#1a1a1a" stroke-width="2.8" fill="none"/>
<path d="M306.6 691.7h30M321.6 676.7v30" stroke="#584a50" stroke-width="2.8" fill="none"/>
<path d="M313.6 691.7h16M321.6 683.7v16" stroke="#c8204a" stroke-width="2.8" fill="none"/>
<path d="M644.0 475.5h30M659.0 460.5v30" stroke="#1a1a1a" stroke-width="2.8" fill="none"/>
<path d="M613.9 508.4h30M628.9 493.4v30" stroke="#1a1a1a" stroke-width="2.8" fill="none"/>
<path d="M675.5 505.6h30M690.5 490.6v30" stroke="#665a6e" stroke-width="2.8" fill="none"/>
<path d="M682.5 505.6h16M690.5 497.6v16" stroke="#8a45a0" stroke-width="2.8" fill="none"/>
<path d="M549.7 570.0h30M564.7 555.0v30" stroke="#5c5c5c" stroke-width="2.8" fill="none"/>
<path d="M502.3 615.7h30M517.3 600.7v30" stroke="#584a50" stroke-width="2.8" fill="none"/>
<path d="M509.3 615.7h16M517.3 607.7v16" stroke="#c8204a" stroke-width="2.8" fill="none"/>
<path d="M633.0 633.7h30M648.0 618.7v30" stroke="#665a6e" stroke-width="2.8" fill="none"/>
<path d="M640.0 633.7h16M648.0 625.7v16" stroke="#8a45a0" stroke-width="2.8" fill="none"/>
<path d="M797.1 580.6h30M812.1 565.6v30" stroke="#584a50" stroke-width="2.8" fill="none"/>
<path d="M804.1 580.6h16M812.1 572.6v16" stroke="#c8204a" stroke-width="2.8" fill="none"/>
<path d="M882.5 615.7h30M897.5 600.7v30" stroke="#665a6e" stroke-width="2.8" fill="none"/>
<path d="M889.5 615.7h16M897.5 607.7v16" stroke="#8a45a0" stroke-width="2.8" fill="none"/>
<path d="M1024.3 509.8h30M1039.3 494.8v30" stroke="#584a50" stroke-width="2.8" fill="none"/>
<path d="M1031.3 509.8h16M1039.3 501.8v16" stroke="#c8204a" stroke-width="2.8" fill="none"/>
<path d="M1105.0 521.2h30M1120.0 506.2v30" stroke="#584a50" stroke-width="2.8" fill="none"/>
<path d="M1112.0 521.2h16M1120.0 513.2v16" stroke="#c8204a" stroke-width="2.8" fill="none"/>
<path d="M1124.1 536.0h30M1139.1 521.0v30" stroke="#665a6e" stroke-width="2.8" fill="none"/>
<path d="M1131.1 536.0h16M1139.1 528.0v16" stroke="#8a45a0" stroke-width="2.8" fill="none"/>
<path d="M1140.0 560.5h30M1155.0 545.5v30" stroke="#584a50" stroke-width="2.8" fill="none"/>
<path d="M1147.0 560.5h16M1155.0 552.5v16" stroke="#c8204a" stroke-width="2.8" fill="none"/>
<path d="M1034.7 632.8h30M1049.7 617.8v30" stroke="#665a6e" stroke-width="2.8" fill="none"/>
<path d="M1041.7 632.8h16M1049.7 624.8v16" stroke="#8a45a0" stroke-width="2.8" fill="none"/>
<path d="M974.8 650.6h30M989.8 635.6v30" stroke="#584a50" stroke-width="2.8" fill="none"/>
<path d="M981.8 650.6h16M989.8 642.6v16" stroke="#c8204a" stroke-width="2.8" fill="none"/>
<path d="M1072.5 671.0h30M1087.5 656.0v30" stroke="#584a50" stroke-width="2.8" fill="none"/>
<path d="M1079.5 671.0h16M1087.5 663.0v16" stroke="#c8204a" stroke-width="2.8" fill="none"/>
<path d="M1237.0 572.8h30M1252.0 557.8v30" stroke="#2e2e3a" stroke-width="2.8" fill="none"/>
<path d="M1244.0 572.8h16M1252.0 564.8v16" stroke="#33308a" stroke-width="2.8" fill="none"/>
<path d="M1236.0 602.1h30M1251.0 587.1v30" stroke="#584a50" stroke-width="2.8" fill="none"/>
<path d="M1243.0 602.1h16M1251.0 594.1v16" stroke="#c8204a" stroke-width="2.8" fill="none"/>
<path d="M1263.1 632.9h30M1278.1 617.9v30" stroke="#584a50" stroke-width="2.8" fill="none"/>
<path d="M1270.1 632.9h16M1278.1 624.9v16" stroke="#c8204a" stroke-width="2.8" fill="none"/>
<path d="M1345.8 600.4h30M1360.8 585.4v30" stroke="#584a50" stroke-width="2.8" fill="none"/>
<path d="M1352.8 600.4h16M1360.8 592.4v16" stroke="#c8204a" stroke-width="2.8" fill="none"/>
<path d="M1353.8 619.1h30M1368.8 604.1v30" stroke="#584a50" stroke-width="2.8" fill="none"/>
<path d="M1360.8 619.1h16M1368.8 611.1v16" stroke="#c8204a" stroke-width="2.8" fill="none"/>
<path d="M1209.5 670.1h30M1224.5 655.1v30" stroke="#584a50" stroke-width="2.8" fill="none"/>
<path d="M1216.5 670.1h16M1224.5 662.1v16" stroke="#c8204a" stroke-width="2.8" fill="none"/>
<path d="M1289.2 679.0h30M1304.2 664.0v30" stroke="#1a1a1a" stroke-width="2.8" fill="none"/>
<path d="M1277.7 690.4h30M1292.7 675.4v30" stroke="#584a50" stroke-width="2.8" fill="none"/>
<path d="M1284.7 690.4h16M1292.7 682.4v16" stroke="#c8204a" stroke-width="2.8" fill="none"/>
<path d="M1356.8 773.9h30M1371.8 758.9v30" stroke="#584a50" stroke-width="2.8" fill="none"/>
<path d="M1363.8 773.9h16M1371.8 765.9v16" stroke="#c8204a" stroke-width="2.8" fill="none"/>
<path d="M472.1 766.2h30M487.1 751.2v30" stroke="#5c5c5c" stroke-width="2.8" fill="none"/>
<path d="M506.7 807.7h30M521.7 792.7v30" stroke="#1a1a1a" stroke-width="2.8" fill="none"/>
<path d="M829.8 705.2h30M844.8 690.2v30" stroke="#584a50" stroke-width="2.8" fill="none"/>
<path d="M836.8 705.2h16M844.8 697.2v16" stroke="#c8204a" stroke-width="2.8" fill="none"/>
<path d="M932.4 739.7h30M947.4 724.7v30" stroke="#1a1a1a" stroke-width="2.8" fill="none"/>
<path d="M924.0 751.0h30M939.0 736.0v30" stroke="#584a50" stroke-width="2.8" fill="none"/>
<path d="M931.0 751.0h16M939.0 743.0v16" stroke="#c8204a" stroke-width="2.8" fill="none"/>
<path d="M285.6 521.6h30M300.6 506.6v30" stroke="#1a1a1a" stroke-width="2.8" fill="none"/>
<path d="M1020.1 190.3h30M1035.1 175.3v30" stroke="#584a50" stroke-width="2.8" fill="none"/>
<path d="M1027.1 190.3h16M1035.1 182.3v16" stroke="#c8204a" stroke-width="2.8" fill="none"/>
<path d="M788.0 448.6h30M803.0 433.6v30" stroke="#2e2e3a" stroke-width="2.8" fill="none"/>
<path d="M795.0 448.6h16M803.0 440.6v16" stroke="#33308a" stroke-width="2.8" fill="none"/>
<path d="M359.7 437.4L379.6 417.5L399.5 437.4L379.6 457.3Z" stroke="#111" stroke-width="2.5" fill="none"/>
<path d="M365.9 437.4h27.4M379.6 423.7v27.4" stroke="#2a2a2a" stroke-width="2.8" fill="none"/>
<path d="M395.8 452.2L415.7 432.3L435.6 452.2L415.7 472.1Z" stroke="#111" stroke-width="2.5" fill="none"/>
<path d="M402.0 452.2h27.4M415.7 438.5v27.4" stroke="#33308a" stroke-width="2.8" fill="none"/>
<path d="M626.2 138.4L646.1 118.5L666.0 138.4L646.1 158.3Z" stroke="#111" stroke-width="2.5" fill="none"/>
<path d="M632.4 138.4h27.4M646.1 124.7v27.4" stroke="#2a2a2a" stroke-width="2.8" fill="none"/>
<path d="M857.2 407.8L877.1 387.9L897.0 407.8L877.1 427.7Z" stroke="#111" stroke-width="2.5" fill="none"/>
<path d="M863.4 407.8h27.4M877.1 394.1v27.4" stroke="#2a2a2a" stroke-width="2.8" fill="none"/>
<path d="M433.2 526.6L453.1 506.7L473.0 526.6L453.1 546.5Z" stroke="#111" stroke-width="2.5" fill="none"/>
<path d="M439.1 526.6h11M461.1 526.6h6.5M453.1 511.1v11M453.1 534.6v5.5" stroke="#222" stroke-width="2.6" fill="none"/><circle cx="453.1" cy="526.6" r="2" fill="#111"/>
<path d="M448.5 727.3L468.4 707.4L488.3 727.3L468.4 747.2Z" stroke="#111" stroke-width="2.5" fill="none"/>
<path d="M454.7 727.3h27.4M468.4 713.6v27.4" stroke="#33308a" stroke-width="2.8" fill="none"/>
<path d="M1099.1 628.0L1119.0 608.1L1138.9 628.0L1119.0 647.9Z" stroke="#111" stroke-width="2.5" fill="none"/>
<path d="M1105.3 628.0h27.4M1119.0 614.3v27.4" stroke="#2a2a2a" stroke-width="2.8" fill="none"/>
<path d="M600 428.2h10.7M596.3 415v9" stroke="#222" stroke-width="2.4" fill="none"/>
<text class="t" x="215.8" y="939" text-anchor="middle">0</text>
<text class="t" x="549.7" y="939" text-anchor="middle">100</text>
<text class="t" x="881.7" y="939" text-anchor="middle">200</text>
<text class="t" x="1215.5" y="939" text-anchor="middle">300</text>
<text class="t" x="202.5" y="230" text-anchor="end">50</text>
<text class="t" x="202.5" y="470" text-anchor="end">0</text>
<text class="t" x="202.5" y="714" text-anchor="end">50</text><rect x="119.9" y="692.6" width="24" height="2.4" fill="#111"/>
<text class="ax" x="776" y="1017.8" text-anchor="middle" style="font-size:56px">Right ascension</text>
<text class="ax" x="89.6" y="472.2" text-anchor="middle" transform="rotate(-90 89.6 472.2)">Declination</text>
<text class="lg" x="731.5" y="100" fill="#3a3aa8" stroke="#3a3aa8">F</text>
<text class="lg" x="797" y="100" fill="#111" stroke="#111">G</text>
<text class="lg" x="864" y="100" fill="#8a4a9a" stroke="#8a4a9a">K</text>
<text class="lg" x="0" y="100" fill="#d82030" stroke="#d82030" transform="translate(928.6 0) scale(1.075 1)">M</text>
</svg>
</body></html>
